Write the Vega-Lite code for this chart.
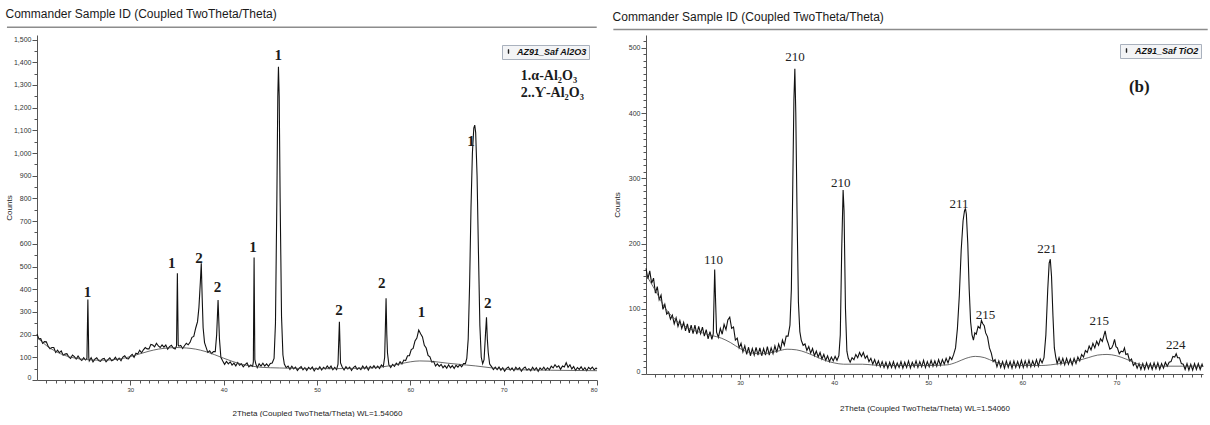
{
"$schema": "https://vega.github.io/schema/vega-lite/v6.json",
"padding": {"left": 5, "top": 7, "right": 0, "bottom": 0},
"autosize": {"type": "pad"},
"background": "white",
"spacing": 12,
"resolve": {"scale": {"color": "independent"}, "legend": {"color": "independent"}},
"config": {
"view": {"stroke": null},
"font": "Liberation Sans",
"axis": {"labelFont": "Liberation Sans", "labelFontSize": 7, "labelColor": "#333", "titleFont": "Liberation Sans", "titleFontSize": 8, "titleFontWeight": "normal", "titleColor": "#222", "tickColor": "#555", "domainColor": "#555", "grid": false, "tickSize": 5, "labelFlush": true},
"title": {"font": "Liberation Sans", "fontSize": 12, "fontWeight": "normal", "color": "#1a1a1a", "anchor": "start", "frame": "bounds"},
"legend": {"symbolType": "M-0.1,-0.5H0.1V0.5H-0.1Z", "symbolSize": 60, "symbolFillColor": "#000", "symbolStrokeColor": "#000", "symbolStrokeWidth": 0.5}
},
"datasets": {
"A": [
{"t":20.0,"c":203},{"t":20.2,"c":181},{"t":20.4,"c":182},{"t":20.6,"c":162},{"t":20.8,"c":169},{"t":21.0,"c":168},{"t":21.2,"c":148},{"t":21.4,"c":138},{"t":21.6,"c":143},{"t":21.8,"c":143},
{"t":22.0,"c":121},{"t":22.2,"c":131},{"t":22.4,"c":120},{"t":22.6,"c":128},{"t":22.8,"c":109},{"t":23.0,"c":114},{"t":23.2,"c":116},{"t":23.4,"c":102},{"t":23.6,"c":95},{"t":23.8,"c":110},
{"t":24.0,"c":103},{"t":24.2,"c":92},{"t":24.4,"c":106},{"t":24.6,"c":93},{"t":24.8,"c":86},{"t":25.0,"c":98},{"t":25.2,"c":88},{"t":25.35,"c":95},{"t":25.45,"c":355},{"t":25.55,"c":98},
{"t":25.6,"c":84},{"t":25.8,"c":98},{"t":26.0,"c":80},{"t":26.2,"c":92},{"t":26.4,"c":98},{"t":26.6,"c":86},{"t":26.8,"c":82},{"t":27.0,"c":93},{"t":27.2,"c":95},{"t":27.4,"c":80},
{"t":27.6,"c":90},{"t":27.8,"c":98},{"t":28.0,"c":85},{"t":28.2,"c":89},{"t":28.4,"c":100},{"t":28.6,"c":87},{"t":28.8,"c":96},{"t":29.0,"c":85},{"t":29.2,"c":101},{"t":29.4,"c":107},
{"t":29.6,"c":95},{"t":29.8,"c":93},{"t":30.0,"c":105},{"t":30.2,"c":113},{"t":30.4,"c":100},{"t":30.6,"c":118},{"t":30.8,"c":115},{"t":31.0,"c":131},{"t":31.2,"c":120},{"t":31.4,"c":133},
{"t":31.6,"c":143},{"t":31.8,"c":137},{"t":32.0,"c":137},{"t":32.2,"c":157},{"t":32.4,"c":154},{"t":32.6,"c":146},{"t":32.8,"c":162},{"t":33.0,"c":150},{"t":33.2,"c":143},{"t":33.4,"c":155},
{"t":33.6,"c":145},{"t":33.8,"c":154},{"t":34.0,"c":136},{"t":34.2,"c":147},{"t":34.4,"c":153},{"t":34.6,"c":141},{"t":34.8,"c":137},{"t":34.95,"c":150},{"t":35.04,"c":470},{"t":35.13,"c":155},
{"t":35.2,"c":149},{"t":35.4,"c":152},{"t":35.6,"c":139},{"t":35.8,"c":151},{"t":36.0,"c":162},{"t":36.2,"c":155},{"t":36.4,"c":166},{"t":36.6,"c":188},{"t":36.8,"c":192},{"t":37.0,"c":228},
{"t":37.2,"c":257},{"t":37.35,"c":320},{"t":37.5,"c":430},{"t":37.6,"c":514},{"t":37.7,"c":360},{"t":37.8,"c":230},{"t":37.95,"c":165},{"t":38.1,"c":146},{"t":38.3,"c":122},{"t":38.5,"c":129},
{"t":38.7,"c":116},{"t":38.9,"c":125},{"t":39.1,"c":125},{"t":39.25,"c":200},{"t":39.4,"c":352},{"t":39.55,"c":180},{"t":39.7,"c":100},{"t":39.9,"c":84},{"t":40.1,"c":69},{"t":40.3,"c":82},
{"t":40.5,"c":71},{"t":40.7,"c":80},{"t":40.9,"c":66},{"t":41.1,"c":74},{"t":41.3,"c":62},{"t":41.5,"c":77},{"t":41.7,"c":65},{"t":41.9,"c":71},{"t":42.1,"c":58},{"t":42.3,"c":68},
{"t":42.5,"c":75},{"t":42.7,"c":58},{"t":42.9,"c":66},{"t":43.1,"c":60},{"t":43.18,"c":80},{"t":43.26,"c":540},{"t":43.34,"c":90},{"t":43.45,"c":70},{"t":43.6,"c":54},{"t":43.8,"c":71},
{"t":44.0,"c":61},{"t":44.2,"c":74},{"t":44.4,"c":61},{"t":44.6,"c":71},{"t":44.8,"c":60},{"t":45.0,"c":73},{"t":45.2,"c":75},{"t":45.4,"c":95},{"t":45.55,"c":250},{"t":45.7,"c":800},
{"t":45.8,"c":1250},{"t":45.87,"c":1380},{"t":45.95,"c":1250},{"t":46.05,"c":800},{"t":46.2,"c":280},{"t":46.35,"c":110},{"t":46.5,"c":70},{"t":46.7,"c":54},{"t":46.9,"c":61},{"t":47.1,"c":47},
{"t":47.3,"c":61},{"t":47.5,"c":49},{"t":47.7,"c":57},{"t":47.9,"c":42},{"t":48.1,"c":52},{"t":48.3,"c":59},{"t":48.5,"c":45},{"t":48.7,"c":54},{"t":48.9,"c":42},{"t":49.1,"c":56},
{"t":49.3,"c":48},{"t":49.5,"c":57},{"t":49.7,"c":40},{"t":49.9,"c":53},{"t":50.1,"c":46},{"t":50.3,"c":58},{"t":50.5,"c":44},{"t":50.7,"c":56},{"t":50.9,"c":49},{"t":51.1,"c":62},
{"t":51.3,"c":50},{"t":51.5,"c":61},{"t":51.7,"c":45},{"t":51.9,"c":56},{"t":52.1,"c":46},{"t":52.25,"c":70},{"t":52.4,"c":257},{"t":52.52,"c":75},{"t":52.7,"c":57},{"t":52.9,"c":44},
{"t":53.1,"c":59},{"t":53.3,"c":49},{"t":53.5,"c":57},{"t":53.7,"c":42},{"t":53.9,"c":55},{"t":54.1,"c":61},{"t":54.3,"c":47},{"t":54.5,"c":54},{"t":54.7,"c":46},{"t":54.9,"c":61},
{"t":55.1,"c":49},{"t":55.3,"c":60},{"t":55.5,"c":44},{"t":55.7,"c":60},{"t":55.9,"c":52},{"t":56.1,"c":63},{"t":56.3,"c":51},{"t":56.5,"c":61},{"t":56.7,"c":51},{"t":56.9,"c":66},
{"t":57.1,"c":58},{"t":57.25,"c":100},{"t":57.4,"c":360},{"t":57.48,"c":200},{"t":57.55,"c":120},{"t":57.7,"c":67},{"t":57.9,"c":55},{"t":58.1,"c":69},{"t":58.3,"c":60},{"t":58.5,"c":74},
{"t":58.7,"c":66},{"t":58.9,"c":81},{"t":59.1,"c":71},{"t":59.3,"c":88},{"t":59.5,"c":86},{"t":59.7,"c":107},{"t":59.9,"c":107},{"t":60.1,"c":134},{"t":60.3,"c":139},{"t":60.5,"c":172},
{"t":60.7,"c":185},{"t":60.9,"c":220},{"t":61.1,"c":204},{"t":61.3,"c":190},{"t":61.5,"c":153},{"t":61.7,"c":141},{"t":61.9,"c":108},{"t":62.1,"c":102},{"t":62.3,"c":79},{"t":62.5,"c":82},
{"t":62.7,"c":62},{"t":62.9,"c":71},{"t":63.1,"c":60},{"t":63.3,"c":69},{"t":63.5,"c":54},{"t":63.7,"c":63},{"t":63.9,"c":52},{"t":64.1,"c":67},{"t":64.3,"c":54},{"t":64.5,"c":63},
{"t":64.7,"c":51},{"t":64.9,"c":65},{"t":65.1,"c":57},{"t":65.3,"c":68},{"t":65.5,"c":58},{"t":65.7,"c":72},{"t":65.9,"c":72},{"t":66.05,"c":95},{"t":66.2,"c":180},{"t":66.35,"c":420},
{"t":66.5,"c":760},{"t":66.65,"c":1000},{"t":66.8,"c":1110},{"t":66.9,"c":1123},{"t":67.0,"c":1090},{"t":67.15,"c":900},{"t":67.3,"c":560},{"t":67.45,"c":240},{"t":67.6,"c":100},{"t":67.75,"c":72},
{"t":67.9,"c":90},{"t":68.05,"c":200},{"t":68.16,"c":276},{"t":68.25,"c":180},{"t":68.35,"c":120},{"t":68.5,"c":70},{"t":68.7,"c":59},{"t":68.9,"c":46},{"t":69.1,"c":57},{"t":69.3,"c":46},
{"t":69.5,"c":57},{"t":69.7,"c":43},{"t":69.9,"c":54},{"t":70.1,"c":39},{"t":70.3,"c":51},{"t":70.5,"c":57},{"t":70.7,"c":44},{"t":70.9,"c":53},{"t":71.1,"c":41},{"t":71.3,"c":56},
{"t":71.5,"c":46},{"t":71.7,"c":54},{"t":71.9,"c":39},{"t":72.1,"c":51},{"t":72.3,"c":57},{"t":72.5,"c":43},{"t":72.7,"c":50},{"t":72.9,"c":41},{"t":73.1,"c":56},{"t":73.3,"c":44},
{"t":73.5,"c":54},{"t":73.7,"c":38},{"t":73.9,"c":53},{"t":74.1,"c":45},{"t":74.3,"c":56},{"t":74.5,"c":44},{"t":74.7,"c":54},{"t":74.9,"c":45},{"t":75.1,"c":61},{"t":75.3,"c":53},
{"t":75.5,"c":67},{"t":75.7,"c":56},{"t":75.9,"c":62},{"t":76.1,"c":47},{"t":76.3,"c":62},{"t":76.5,"c":57},{"t":76.7,"c":76},{"t":76.9,"c":56},{"t":77.1,"c":67},{"t":77.3,"c":49},
{"t":77.5,"c":59},{"t":77.7,"c":42},{"t":77.9,"c":55},{"t":78.1,"c":47},{"t":78.3,"c":58},{"t":78.5,"c":44},{"t":78.7,"c":54},{"t":78.9,"c":41},{"t":79.1,"c":56},{"t":79.3,"c":48},
{"t":79.5,"c":57},{"t":79.7,"c":45},{"t":79.9,"c":53},{"t":80.0,"c":48}
],
"B": [
{"t":20.0,"c":162},{"t":20.2,"c":146},{"t":20.4,"c":158},{"t":20.6,"c":139},{"t":20.8,"c":147},{"t":21.0,"c":124},{"t":21.2,"c":134},{"t":21.4,"c":114},{"t":21.6,"c":121},{"t":21.8,"c":99},
{"t":22.0,"c":107},{"t":22.2,"c":92},{"t":22.4,"c":95},{"t":22.6,"c":84},{"t":22.8,"c":90},{"t":23.0,"c":77},{"t":23.2,"c":86},{"t":23.4,"c":73},{"t":23.6,"c":82},{"t":23.8,"c":70},
{"t":24.0,"c":79},{"t":24.2,"c":66},{"t":24.4,"c":77},{"t":24.6,"c":63},{"t":24.8,"c":75},{"t":25.0,"c":62},{"t":25.2,"c":75},{"t":25.4,"c":61},{"t":25.6,"c":73},{"t":25.8,"c":62},
{"t":26.0,"c":72},{"t":26.2,"c":58},{"t":26.4,"c":68},{"t":26.6,"c":54},{"t":26.8,"c":65},{"t":27.0,"c":53},{"t":27.15,"c":62},{"t":27.3,"c":160},{"t":27.4,"c":110},{"t":27.5,"c":64},
{"t":27.7,"c":56},{"t":27.9,"c":70},{"t":28.1,"c":61},{"t":28.3,"c":76},{"t":28.5,"c":68},{"t":28.7,"c":83},{"t":28.9,"c":87},{"t":29.1,"c":70},{"t":29.3,"c":72},{"t":29.5,"c":52},
{"t":29.7,"c":55},{"t":29.9,"c":40},{"t":30.1,"c":47},{"t":30.3,"c":34},{"t":30.5,"c":43},{"t":30.7,"c":30},{"t":30.9,"c":41},{"t":31.1,"c":28},{"t":31.3,"c":39},{"t":31.5,"c":29},
{"t":31.7,"c":41},{"t":31.9,"c":29},{"t":32.1,"c":40},{"t":32.3,"c":28},{"t":32.5,"c":39},{"t":32.7,"c":29},{"t":32.9,"c":42},{"t":33.1,"c":29},{"t":33.3,"c":40},{"t":33.5,"c":31},
{"t":33.7,"c":43},{"t":33.9,"c":33},{"t":34.1,"c":46},{"t":34.3,"c":37},{"t":34.5,"c":52},{"t":34.7,"c":44},{"t":34.9,"c":58},{"t":35.1,"c":58},{"t":35.3,"c":75},{"t":35.45,"c":130},
{"t":35.6,"c":290},{"t":35.72,"c":420},{"t":35.82,"c":468},{"t":35.92,"c":400},{"t":36.05,"c":250},{"t":36.2,"c":110},{"t":36.35,"c":65},{"t":36.5,"c":52},{"t":36.7,"c":44},{"t":36.9,"c":46},
{"t":37.1,"c":36},{"t":37.3,"c":42},{"t":37.5,"c":32},{"t":37.7,"c":39},{"t":37.9,"c":28},{"t":38.1,"c":35},{"t":38.3,"c":26},{"t":38.5,"c":33},{"t":38.7,"c":23},{"t":38.9,"c":30},
{"t":39.1,"c":21},{"t":39.3,"c":28},{"t":39.5,"c":19},{"t":39.7,"c":26},{"t":39.9,"c":20},{"t":40.1,"c":27},{"t":40.3,"c":21},{"t":40.5,"c":28},{"t":40.65,"c":60},{"t":40.8,"c":190},
{"t":40.95,"c":282},{"t":41.05,"c":250},{"t":41.2,"c":100},{"t":41.35,"c":35},{"t":41.5,"c":24},{"t":41.7,"c":18},{"t":41.9,"c":25},{"t":42.1,"c":22},{"t":42.3,"c":30},{"t":42.5,"c":25},
{"t":42.7,"c":33},{"t":42.9,"c":27},{"t":43.1,"c":33},{"t":43.3,"c":24},{"t":43.5,"c":28},{"t":43.7,"c":19},{"t":43.9,"c":24},{"t":44.1,"c":15},{"t":44.3,"c":22},{"t":44.5,"c":13},
{"t":44.7,"c":20},{"t":44.9,"c":11},{"t":45.1,"c":19},{"t":45.3,"c":10},{"t":45.5,"c":18},{"t":45.7,"c":9},{"t":45.9,"c":18},{"t":46.1,"c":10},{"t":46.3,"c":19},{"t":46.5,"c":9},
{"t":46.7,"c":17},{"t":46.9,"c":10},{"t":47.1,"c":19},{"t":47.3,"c":9},{"t":47.5,"c":18},{"t":47.7,"c":10},{"t":47.9,"c":20},{"t":48.1,"c":9},{"t":48.3,"c":18},{"t":48.5,"c":11},
{"t":48.7,"c":20},{"t":48.9,"c":10},{"t":49.1,"c":19},{"t":49.3,"c":11},{"t":49.5,"c":21},{"t":49.7,"c":10},{"t":49.9,"c":19},{"t":50.1,"c":11},{"t":50.3,"c":21},{"t":50.5,"c":12},
{"t":50.7,"c":20},{"t":50.9,"c":12},{"t":51.1,"c":22},{"t":51.3,"c":13},{"t":51.5,"c":22},{"t":51.7,"c":15},{"t":51.9,"c":24},{"t":52.1,"c":17},{"t":52.3,"c":26},{"t":52.5,"c":22},
{"t":52.7,"c":30},{"t":52.9,"c":40},{"t":53.1,"c":70},{"t":53.3,"c":120},{"t":53.5,"c":190},{"t":53.7,"c":235},{"t":53.85,"c":250},{"t":53.95,"c":254},{"t":54.05,"c":245},{"t":54.2,"c":200},
{"t":54.35,"c":130},{"t":54.5,"c":80},{"t":54.65,"c":60},{"t":54.8,"c":52},{"t":54.95,"c":63},{"t":55.1,"c":61},{"t":55.3,"c":73},{"t":55.5,"c":70},{"t":55.65,"c":82},{"t":55.8,"c":77},
{"t":55.95,"c":74},{"t":56.1,"c":63},{"t":56.3,"c":57},{"t":56.5,"c":40},{"t":56.7,"c":32},{"t":56.9,"c":19},{"t":57.1,"c":22},{"t":57.3,"c":11},{"t":57.5,"c":20},{"t":57.7,"c":10},
{"t":57.9,"c":19},{"t":58.1,"c":9},{"t":58.3,"c":20},{"t":58.5,"c":10},{"t":58.7,"c":19},{"t":58.9,"c":9},{"t":59.1,"c":20},{"t":59.3,"c":10},{"t":59.5,"c":19},{"t":59.7,"c":10},
{"t":59.9,"c":21},{"t":60.1,"c":10},{"t":60.3,"c":20},{"t":60.5,"c":11},{"t":60.7,"c":21},{"t":60.9,"c":11},{"t":61.1,"c":20},{"t":61.3,"c":12},{"t":61.5,"c":22},{"t":61.7,"c":12},
{"t":61.9,"c":23},{"t":62.1,"c":17},{"t":62.3,"c":25},{"t":62.5,"c":60},{"t":62.7,"c":130},{"t":62.85,"c":170},{"t":62.97,"c":176},{"t":63.1,"c":150},{"t":63.25,"c":90},{"t":63.4,"c":40},
{"t":63.55,"c":26},{"t":63.7,"c":16},{"t":63.9,"c":25},{"t":64.1,"c":15},{"t":64.3,"c":24},{"t":64.5,"c":14},{"t":64.7,"c":24},{"t":64.9,"c":15},{"t":65.1,"c":23},{"t":65.3,"c":14},
{"t":65.5,"c":24},{"t":65.7,"c":16},{"t":65.9,"c":26},{"t":66.1,"c":20},{"t":66.3,"c":30},{"t":66.5,"c":26},{"t":66.7,"c":36},{"t":66.9,"c":33},{"t":67.1,"c":43},{"t":67.3,"c":37},
{"t":67.5,"c":47},{"t":67.7,"c":40},{"t":67.9,"c":50},{"t":68.1,"c":44},{"t":68.3,"c":54},{"t":68.5,"c":50},{"t":68.65,"c":58},{"t":68.8,"c":66},{"t":68.95,"c":54},{"t":69.1,"c":48},
{"t":69.3,"c":38},{"t":69.5,"c":40},{"t":69.65,"c":45},{"t":69.8,"c":53},{"t":69.95,"c":42},{"t":70.1,"c":40},{"t":70.3,"c":31},{"t":70.5,"c":35},{"t":70.7,"c":34},{"t":70.85,"c":40},
{"t":71.0,"c":30},{"t":71.2,"c":31},{"t":71.4,"c":20},{"t":71.6,"c":23},{"t":71.8,"c":13},{"t":72.0,"c":17},{"t":72.2,"c":9},{"t":72.4,"c":16},{"t":72.6,"c":7},{"t":72.8,"c":16},
{"t":73.0,"c":7},{"t":73.2,"c":17},{"t":73.4,"c":8},{"t":73.6,"c":16},{"t":73.8,"c":7},{"t":74.0,"c":17},{"t":74.2,"c":8},{"t":74.4,"c":17},{"t":74.6,"c":7},{"t":74.8,"c":16},
{"t":75.0,"c":9},{"t":75.2,"c":18},{"t":75.4,"c":12},{"t":75.6,"c":18},{"t":75.8,"c":19},{"t":76.0,"c":27},{"t":76.2,"c":26},{"t":76.35,"c":31},{"t":76.5,"c":25},{"t":76.7,"c":25},
{"t":76.9,"c":16},{"t":77.1,"c":15},{"t":77.3,"c":7},{"t":77.5,"c":16},{"t":77.7,"c":6},{"t":77.9,"c":15},{"t":78.1,"c":6},{"t":78.3,"c":16},{"t":78.5,"c":7},{"t":78.7,"c":16},
{"t":78.9,"c":7},{"t":79.1,"c":15},{"t":79.2,"c":11}
],
"SA": [
{"t":20,"c":188},{"t":21,"c":152},{"t":22,"c":126},{"t":23,"c":108},{"t":24,"c":97},{"t":25,"c":91},{"t":26,"c":88},{"t":27,"c":87},{"t":28,"c":89},{"t":29,"c":94},
{"t":30,"c":103},{"t":31,"c":115},{"t":32,"c":127},{"t":33,"c":136},{"t":34,"c":141},{"t":35,"c":143},{"t":36,"c":141},{"t":37,"c":136},{"t":38,"c":126},{"t":39,"c":112},
{"t":40,"c":96},{"t":41,"c":81},{"t":42,"c":69},{"t":43,"c":61},{"t":44,"c":56},{"t":45,"c":54},{"t":46,"c":53},{"t":48,"c":51},{"t":50,"c":50},{"t":52,"c":50},
{"t":54,"c":51},{"t":55,"c":52},{"t":56,"c":54},{"t":57,"c":58},{"t":58,"c":64},{"t":59,"c":72},{"t":60,"c":80},{"t":61,"c":84},{"t":62,"c":83},{"t":63,"c":79},
{"t":64,"c":74},{"t":65,"c":70},{"t":66,"c":66},{"t":67,"c":62},{"t":68,"c":57},{"t":69,"c":52},{"t":70,"c":48},{"t":72,"c":45},{"t":75,"c":43},{"t":80,"c":41}
],
"SB": [
{"t":20,"c":152},{"t":21,"c":128},{"t":22,"c":102},{"t":23,"c":85},{"t":24,"c":74},{"t":25,"c":67},{"t":26,"c":63},{"t":27,"c":59},{"t":28,"c":55},{"t":29,"c":48},
{"t":30,"c":39},{"t":31,"c":33},{"t":32,"c":31},{"t":33,"c":32},{"t":34,"c":35},{"t":35,"c":38},{"t":36,"c":37},{"t":37,"c":33},{"t":38,"c":27},{"t":39,"c":21},
{"t":40,"c":17},{"t":41,"c":15},{"t":42,"c":15},{"t":43,"c":15},{"t":44,"c":14},{"t":45,"c":13},{"t":47,"c":13},{"t":50,"c":13},{"t":52,"c":14},{"t":53,"c":18},
{"t":54,"c":24},{"t":55,"c":27},{"t":56,"c":25},{"t":57,"c":19},{"t":58,"c":15},{"t":60,"c":13},{"t":62,"c":13},{"t":63,"c":14},{"t":64,"c":16},{"t":65,"c":18},
{"t":66,"c":21},{"t":67,"c":25},{"t":68,"c":29},{"t":69,"c":30},{"t":70,"c":28},{"t":71,"c":23},{"t":72,"c":17},{"t":73,"c":13},{"t":75,"c":12},{"t":77,"c":12},{"t":79.2,"c":12}
],
"LA": [
{"t":25.4,"c":389,"k":"1"},{"t":34.44,"c":514,"k":"1"},{"t":37.36,"c":536,"k":"2"},{"t":39.33,"c":411,"k":"2"},{"t":43.15,"c":587,"k":"1"},{"t":45.86,"c":1432,"k":"1"},
{"t":52.37,"c":308,"k":"2"},{"t":56.94,"c":426,"k":"2"},{"t":61.19,"c":301,"k":"1"},{"t":66.5,"c":1053,"k":"1"},{"t":68.3,"c":338,"k":"2"}
],
"NA": [
{"t":71.84,"c":1340,"k":"1.α-Al₂O₃"},{"t":71.84,"c":1266,"k":"2..Ƴ-Al₂O₃"}
],
"LB": [
{"t":27.17,"c":174,"k":"110"},{"t":35.83,"c":486,"k":"210"},{"t":40.71,"c":293,"k":"210"},{"t":53.26,"c":260,"k":"211"},
{"t":56.09,"c":91,"k":"215"},{"t":62.63,"c":191,"k":"221"},{"t":68.18,"c":81,"k":"215"},{"t":76.31,"c":45,"k":"224"}
],
"NB": [
{"t":72.43,"c":440,"k":"(b)"}
]
},
"hconcat": [
{
"width": 560, "height": 345,
"title": {"text": "Commander Sample ID (Coupled TwoTheta/Theta)", "offset": 6},
"resolve": {"axis": {"x": "independent", "y": "independent"}},
"layer": [
{"data": {"name": "A"}, "mark": {"type": "line", "strokeWidth": 1.1},
"encoding": {
"x": {"field": "t", "type": "quantitative", "scale": {"domain": [20, 80], "nice": false, "zero": false},
"axis": {"orient": "bottom", "values": [30,40,50,60,70,80], "title": "2Theta (Coupled TwoTheta/Theta) WL=1.54060", "labelFontSize": 6, "labelPadding": 1, "titlePadding": 17}},
"y": {"field": "c", "type": "quantitative", "scale": {"domain": [0, 1520], "nice": false, "zero": false},
"axis": {"orient": "left", "values": [0,100,200,300,400,500,600,700,800,900,1000,1100,1200,1300,1400,1500], "format": ",.0f", "title": "Counts", "labelPadding": 1, "titlePadding": 0}},
"color": {"datum": "AZ91_Saf Al2O3", "type": "nominal", "scale": {"range": ["#111111"]},
"legend": {"title": null, "orient": "none", "legendX": 465, "legendY": 10, "strokeColor": "#a9b1bd", "fillColor": "#f3f4f6", "padding": 2, "labelFont": "Liberation Sans", "labelFontSize": 9, "labelFontStyle": "italic", "labelFontWeight": "bold", "labelColor": "#111"}}
}},
{"data": {"name": "SA"}, "mark": {"type": "line", "interpolate": "monotone", "strokeWidth": 0.8, "color": "#444"},
"encoding": {
"x": {"field": "t", "type": "quantitative", "scale": {"domain": [20, 80], "nice": false, "zero": false},
"axis": {"orient": "bottom", "values": [21,22,23,24,25,26,27,28,29,31,32,33,34,35,36,37,38,39,41,42,43,44,45,46,47,48,49,51,52,53,54,55,56,57,58,59,61,62,63,64,65,66,67,68,69,71,72,73,74,75,76,77,78,79], "labels": false, "domain": false, "tickSize": 3, "title": null}},
"y": {"field": "c", "type": "quantitative", "scale": {"domain": [0, 1520], "nice": false, "zero": false},
"axis": {"orient": "left", "values": [50,150,250,350,450,550,650,750,850,950,1050,1150,1250,1350,1450], "labels": false, "domain": false, "tickSize": 3, "title": null}}
}},
{"data": {"values": [{}]}, "mark": {"type": "rule", "color": "#8c8c8c", "strokeWidth": 1.5},
"encoding": {
"x": {"datum": 16.78, "type": "quantitative", "scale": {"domain": [20, 80], "nice": false, "zero": false}, "axis": null},
"x2": {"datum": 79.97},
"y": {"datum": 1554, "type": "quantitative", "scale": {"domain": [0, 1520], "nice": false, "zero": false}, "axis": null}
}},
{"data": {"name": "LA"}, "mark": {"type": "text", "font": "Liberation Serif", "fontWeight": "bold", "fontSize": 15, "color": "#1b1b1b", "align": "center", "baseline": "middle"},
"encoding": {
"x": {"field": "t", "type": "quantitative", "scale": {"domain": [20, 80], "nice": false, "zero": false}, "axis": null},
"y": {"field": "c", "type": "quantitative", "scale": {"domain": [0, 1520], "nice": false, "zero": false}, "axis": null},
"text": {"field": "k"}
}},
{"data": {"name": "NA"}, "mark": {"type": "text", "font": "Liberation Serif", "fontWeight": "bold", "fontSize": 14, "color": "#1b1b1b", "align": "left", "baseline": "middle"},
"encoding": {
"x": {"field": "t", "type": "quantitative", "scale": {"domain": [20, 80], "nice": false, "zero": false}, "axis": null},
"y": {"field": "c", "type": "quantitative", "scale": {"domain": [0, 1520], "nice": false, "zero": false}, "axis": null},
"text": {"field": "k"}
}}
]
},
{
"width": 557, "height": 339,
"title": {"text": "Commander Sample ID (Coupled TwoTheta/Theta)", "offset": 5},
"resolve": {"axis": {"x": "independent", "y": "independent"}},
"layer": [
{"data": {"name": "B"}, "mark": {"type": "line", "strokeWidth": 1.1},
"encoding": {
"x": {"field": "t", "type": "quantitative", "scale": {"domain": [20, 79.2], "nice": false, "zero": false},
"axis": {"orient": "bottom", "values": [30,40,50,60,70], "title": "2Theta (Coupled TwoTheta/Theta) WL=1.54060", "labelFontSize": 6, "labelPadding": 0, "titlePadding": 19}},
"y": {"field": "c", "type": "quantitative", "scale": {"domain": [0, 519.7], "nice": false, "zero": false},
"axis": {"orient": "left", "values": [0,100,200,300,400,500], "title": "Counts", "labelPadding": 1, "titlePadding": 7}},
"color": {"datum": "AZ91_Saf TiO2", "type": "nominal", "scale": {"range": ["#111111"]},
"legend": {"title": null, "orient": "none", "legendX": 474, "legendY": 9, "strokeColor": "#a9b1bd", "fillColor": "#f3f4f6", "padding": 2, "labelFont": "Liberation Sans", "labelFontSize": 9, "labelFontStyle": "italic", "labelFontWeight": "bold", "labelColor": "#111"}}
}},
{"data": {"name": "SB"}, "mark": {"type": "line", "interpolate": "monotone", "strokeWidth": 0.8, "color": "#444"},
"encoding": {
"x": {"field": "t", "type": "quantitative", "scale": {"domain": [20, 79.2], "nice": false, "zero": false},
"axis": {"orient": "bottom", "values": [21,22,23,24,25,26,27,28,29,31,32,33,34,35,36,37,38,39,41,42,43,44,45,46,47,48,49,51,52,53,54,55,56,57,58,59,61,62,63,64,65,66,67,68,69,71,72,73,74,75,76,77,78,79], "labels": false, "domain": false, "tickSize": 3, "title": null}},
"y": {"field": "c", "type": "quantitative", "scale": {"domain": [0, 519.7], "nice": false, "zero": false},
"axis": {"orient": "left", "values": [10,20,30,40,50,60,70,80,90,110,120,130,140,150,160,170,180,190,210,220,230,240,250,260,270,280,290,310,320,330,340,350,360,370,380,390,410,420,430,440,450,460,470,480,490,510], "labels": false, "domain": false, "tickSize": 3, "title": null}}
}},
{"data": {"values": [{}]}, "mark": {"type": "rule", "color": "#8c8c8c", "strokeWidth": 1.5},
"encoding": {
"x": {"datum": 16.53, "type": "quantitative", "scale": {"domain": [20, 79.2], "nice": false, "zero": false}, "axis": null},
"x2": {"datum": 79.7},
"y": {"datum": 528, "type": "quantitative", "scale": {"domain": [0, 519.7], "nice": false, "zero": false}, "axis": null}
}},
{"data": {"name": "LB"}, "mark": {"type": "text", "font": "Liberation Serif", "fontSize": 13, "color": "#222", "align": "center", "baseline": "middle"},
"encoding": {
"x": {"field": "t", "type": "quantitative", "scale": {"domain": [20, 79.2], "nice": false, "zero": false}, "axis": null},
"y": {"field": "c", "type": "quantitative", "scale": {"domain": [0, 519.7], "nice": false, "zero": false}, "axis": null},
"text": {"field": "k"}
}},
{"data": {"name": "NB"}, "mark": {"type": "text", "font": "Liberation Serif", "fontWeight": "bold", "fontSize": 17, "color": "#1b1b1b", "align": "center", "baseline": "middle"},
"encoding": {
"x": {"field": "t", "type": "quantitative", "scale": {"domain": [20, 79.2], "nice": false, "zero": false}, "axis": null},
"y": {"field": "c", "type": "quantitative", "scale": {"domain": [0, 519.7], "nice": false, "zero": false}, "axis": null},
"text": {"field": "k"}
}}
]
}
]
}
